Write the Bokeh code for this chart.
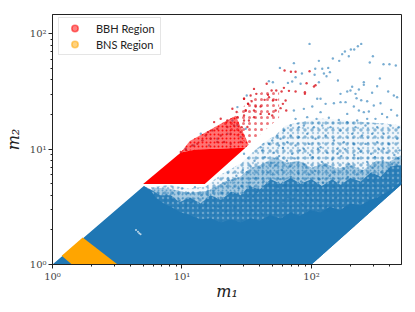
from bokeh.plotting import figure
from bokeh.embed import file_html
from bokeh.resources import INLINE
from bokeh.models import Legend, LegendItem

# all masses as log10(solar masses)
blue_solid_m1 = [0, .705, .76, .80, .86, .93, .991, 1.06, 1.145, 1.22, 1.30, 1.38, 1.453, 1.53, 1.60, 1.68, 1.762, 1.84, 1.91, 1.99, 2.07, 2.14, 2.22, 2.30, 2.379, 2.45, 2.51, 2.571, 2.63, 2.695, 2.695, 2.0]
blue_solid_m2 = [0, .68, .64, .575, .529, .49, .451, .43, .39, .40, .365, .39, .364, .40, .38, .43, .399, .45, .42, .47, .451, .50, .47, .53, .512, .56, .58, .62, .66, .72, .695, 0]
blue_mid_m1 = [.705, .76, .83, .914, .98, 1.06, 1.145, 1.22, 1.30, 1.38, 1.453, 1.52, 1.60, 1.685, 1.76, 1.84, 1.916, 2.0, 2.08, 2.16, 2.224, 2.30, 2.38, 2.46, 2.533, 2.61, 2.695, 2.695, 2.0, 1.0]
blue_mid_m2 = [.68, .65, .60, .60, .54, .58, .53, .60, .56, .63, .60, .68, .65, .74, .70, .75, .70, .74, .68, .74, .69, .75, .72, .80, .76, .85, .86, .695, 0, 0]
blue_near_m1 = [.76, .90, 1.05, 1.2, 1.33, 1.45, 1.53, 1.6, 1.72, 1.81, 1.9, 2.0, 2.1, 2.2, 2.3, 2.4, 2.5, 2.6, 2.695, 2.695, 2.0, 1.0]
blue_near_m2 = [.668, .66, .62, .64, .72, .76, .84, .86, .93, .88, .90, .84, .88, .83, .86, .82, .90, .89, .95, .695, 0, 0]
blue_thin_m1 = [.76, .90, 1.05, 1.183, 1.30, 1.453, 1.55, 1.623, 1.72, 1.80, 1.93, 2.07, 2.25, 2.456, 2.58, 2.695, 2.695, 2.0, 1.0]
blue_thin_m2 = [.668, .69, .66, .676, .78, .876, .98, 1.049, 1.12, 1.206, 1.24, 1.266, 1.25, 1.232, 1.22, 1.206, .695, 0, 0]
bbh_m1 = [.7, .991, 1.106, 1.49, 1.176]
bbh_m2 = [.699, .971, .997, 1.013, .699]
bbh_thin_m1 = [.991, 1.06, 1.18, 1.30, 1.415, 1.515, 1.49, 1.106]
bbh_thin_m2 = [.971, 1.07, 1.145, 1.22, 1.29, 1.038, 1.013, .997]
bbh_far_m1 = [1.3, 1.415, 1.5, 1.62, 1.75, 1.75, 1.515]
bbh_far_m2 = [1.22, 1.29, 1.4, 1.5, 1.5, 1.273, 1.038]
bns_m1 = [.071, .233, .503, .15]
bns_m2 = [.075, .234, 0, 0]
hole_m1 = [.66, .67, .645, .68]
hole_m2 = [.285, .27, .3, .262]

blue_m1 = [1.985,2.384,2.358,2.330,2.304,2.258,2.237,2.288,2.165,2.214,2.057,1.864,2.474,2.450,2.556,2.602,2.651,1.756,2.129,2.029,2.083,2.142,1.926,2.024,2.096,2.116,2.204,1.877,1.851,1.702,1.671,1.818,1.916,2.057,2.528,2.404,2.404,2.314,2.507,2.301,2.276,2.366,2.468,2.592,2.636,2.661,2.224,2.348,2.430,
 2.384,2.327,2.366,2.404,2.443,2.481,2.533,2.615,2.661,2.584,2.494,2.430,2.353,2.276,2.224,2.263,2.173,2.109,2.044,2.070,2.006,2.070,1.941,1.864,1.877,1.967,2.039,2.134,2.211,2.276,2.340,2.417,2.507,2.610,2.674,2.558,2.468,2.391,2.314,2.224,2.147,2.083,2.019,1.941,1.903,1.839,1.787,1.736,1.697,1.672,1.761,1.839,1.903,1.967,2.031,2.109,2.173,2.250,2.327,2.417,2.507,2.597,2.661,1.813,1.877,1.980,2.070,2.199,2.366,2.558,1.607,1.749,1.941,2.34,2.545,
 1.389,1.428,1.492,1.453,1.350,1.273,1.209,1.145,1.093,1.029,1.273,1.376,1.479,1.428,1.500,
 1.62,1.71,1.78,1.85,1.91,1.99,2.05,2.12,2.2,2.26,2.33,2.38,2.46,2.52,2.58,2.64,2.68,
 1.56,1.64,1.69,1.75,1.81,1.87,1.94,2.01,2.08,2.16,2.23,2.29,2.36,2.43,2.49,2.55,2.62,2.67,
 1.47,1.53,1.6,1.66,1.72,1.77,1.83,1.9,1.96,2.03,2.1,2.18,2.25,2.31,2.39,2.47,2.54,2.6,2.66,
 1.36,1.42,1.5,1.57,1.63,1.7,1.76,1.84,1.92,1.98,2.06,2.14,2.21,2.28,2.35,2.44,2.51,2.57,2.65,
 1.26,1.33,1.39,1.46,1.52,1.59,1.67,1.74,1.8,1.88,1.95,2.02,2.09,2.17,2.24,2.32,2.4,2.48,2.56,2.63,
 1.2,1.24,1.3,1.38,1.44,1.51,1.58,1.65,1.73,1.82,1.89,1.97,2.04,2.11,2.19,2.27,2.34,2.42,2.5,2.59,2.66,
 1.0,1.05,1.1,1.15,1.2,1.25,1.31,1.37,1.43,1.49,1.55,1.61,1.68,1.78,1.86,1.93,2.0,2.07,2.15,2.22,2.3,2.37,2.45,2.53,2.61,
 .88,.93,.98,1.03,1.08,1.13,1.18,1.23,1.28,1.34,1.4,1.45,1.54,1.62,1.72,1.85,1.99,2.13,2.26,2.41,2.55]
blue_m2 = [1.913,1.913,1.893,1.864,1.864,1.847,1.824,1.806,1.786,1.766,1.766,1.746,1.806,1.752,1.737,1.737,1.726,1.705,1.705,1.697,1.697,1.668,1.656,1.645,1.656,1.633,1.595,1.624,1.587,1.581,1.590,1.575,1.567,1.581,1.613,1.581,1.558,1.541,1.546,1.509,1.500,1.517,1.489,1.500,1.465,1.451,1.480,1.442,1.416,
 1.425,1.370,1.335,1.321,1.327,1.379,1.399,1.341,1.292,1.278,1.263,1.263,1.249,1.306,1.408,1.408,1.399,1.393,1.437,1.437,1.370,1.321,1.350,1.335,1.263,1.278,1.263,1.272,1.254,1.234,1.191,1.205,1.191,1.205,1.191,1.133,1.133,1.119,1.133,1.162,1.191,1.205,1.191,1.205,1.191,1.205,1.162,1.119,1.075,1.046,1.090,1.119,1.104,1.133,1.090,1.119,1.075,1.061,1.046,1.046,1.061,1.046,1.090,1.061,1.032,1.046,1.017,1.003,1.003,1.003,1.017,1.032,1.003,1.48,1.306,
 1.249,1.206,1.177,1.105,1.134,1.091,1.033,1.134,1.033,1.004,.937,1.004,.960,1.365,1.466,
 .99,.97,1.01,.96,.99,.95,1.0,.97,.96,1.0,.95,.98,.96,1.0,.97,.95,.99,
 .9,.93,.88,.94,.9,.92,.87,.93,.89,.91,.94,.87,.92,.89,.93,.9,.87,.92,
 .82,.85,.84,.8,.86,.82,.85,.79,.84,.81,.86,.8,.83,.85,.81,.84,.8,.83,.86,
 .73,.77,.8,.75,.72,.78,.74,.76,.72,.78,.74,.77,.72,.76,.78,.73,.77,.74,.78,
 .66,.7,.73,.68,.71,.65,.7,.67,.69,.65,.7,.66,.71,.67,.7,.65,.69,.72,.67,.7,
 .6,.64,.58,.62,.66,.59,.63,.57,.62,.58,.64,.6,.56,.63,.58,.61,.65,.6,.57,.63,.72,
 .66,.62,.67,.6,.64,.58,.62,.57,.61,.55,.59,.54,.58,.53,.57,.52,.56,.51,.55,.53,.57,.54,.58,.55,.66,
 .6,.57,.55,.52,.54,.49,.52,.47,.5,.46,.49,.45,.47,.44,.46,.45,.46,.47,.49,.5,.6]
red_m1 = [1.792,1.841,1.877,1.985,1.962,2.031,2.019,1.654,1.556,1.574,1.692,1.728,1.787,1.769,1.826,1.877,1.949,1.949,1.664,1.672,1.638,1.702,1.728,1.800,1.779,1.761,1.805,1.530,1.479,1.538,1.569,1.607,1.510,1.492,1.723,1.697,1.672,1.607,1.556,1.556,1.517,1.479,1.461,
 1.479,1.510,1.422,1.389,1.428,1.350,1.299,1.248,1.235,1.201,1.158,1.273,1.350,1.479,1.505,1.402,1.376,1.453,1.299,1.222,1.119,1.080,1.029,.991,1.453,1.376,1.325,1.273,1.492,1.183]
red_m2 = [1.682,1.671,1.671,1.676,1.572,1.555,1.543,1.567,1.523,1.480,1.509,1.509,1.532,1.500,1.506,1.500,1.480,1.494,1.471,1.451,1.428,1.422,1.428,1.422,1.393,1.356,1.335,1.465,1.437,1.416,1.370,1.370,1.393,1.335,1.335,1.292,1.306,1.306,1.335,1.278,1.249,1.292,1.191,
 1.437,1.394,1.322,1.351,1.278,1.249,1.264,1.235,1.163,1.148,1.076,1.177,1.192,1.249,1.192,1.206,1.134,1.148,1.119,1.091,1.047,1.033,.995,.975,1.062,1.047,1.062,1.062,1.336,1.119]

legend_labels = ["BBH Region", "BNS Region"]
x_tick_labels = {1: "10\u2070", 10: "10\u00b9", 100: "10\u00b2"}
y_tick_labels = {1: "10\u2070", 10: "10\u00b9", 100: "10\u00b2"}

def up(values):
    return [10 ** v for v in values]

BLUE, RED, ORANGE = "#1f77b4", "#ff0000", "#ffa500"

p = figure(width=399, height=304, x_axis_type="log", y_axis_type="log",
           x_range=(1, 10 ** 2.695), y_range=(1, 10 ** 2.168),
           output_backend="svg", toolbar_location=None,
           min_border_left=44, min_border_right=2, min_border_top=14, min_border_bottom=40,
           frame_width=349, frame_height=250, background_fill_color="white")
p.grid.visible = False
p.outline_line_color = "#222222"
p.outline_line_width = 1

p.patch(up(blue_thin_m1), up(blue_thin_m2), fill_color=BLUE, fill_alpha=0.06, line_width=0, line_alpha=0,
        hatch_pattern="dot", hatch_color=BLUE, hatch_alpha=0.5, hatch_scale=7, hatch_weight=1)
p.patch(up(blue_thin_m1), up(blue_thin_m2), fill_alpha=0, line_width=0, line_alpha=0,
        hatch_pattern="dot", hatch_color=BLUE, hatch_alpha=0.35, hatch_scale=5, hatch_weight=1)
p.patch(up(blue_near_m1), up(blue_near_m2), fill_color=BLUE, fill_alpha=0.35, line_width=0, line_alpha=0,
        hatch_pattern="dot", hatch_color=BLUE, hatch_alpha=0.5, hatch_scale=4, hatch_weight=1)
p.patch(up(blue_mid_m1), up(blue_mid_m2), fill_color=BLUE, fill_alpha=0.9, line_width=0, line_alpha=0,
        hatch_pattern="dot", hatch_color="white", hatch_alpha=0.3, hatch_scale=5, hatch_weight=1)
p.patch(up(blue_solid_m1), up(blue_solid_m2), color=BLUE, line_width=0)
p.patch(up(bns_m1), up(bns_m2), color=ORANGE, line_width=0)
p.scatter(up(hole_m1), up(hole_m2), size=2, color="white", alpha=0.7, line_width=0)
p.scatter(up(blue_m1), up(blue_m2), size=2.4, color=BLUE, alpha=0.6, line_width=0)
p.patch(up(bbh_far_m1), up(bbh_far_m2), fill_alpha=0, line_width=0, line_alpha=0,
        hatch_pattern="dot", hatch_color="#e01a24", hatch_alpha=0.6, hatch_scale=6, hatch_weight=1.2)
p.patch(up(bbh_thin_m1), up(bbh_thin_m2), fill_color=RED, fill_alpha=0.55, line_width=0, line_alpha=0,
        hatch_pattern="dot", hatch_color=RED, hatch_alpha=0.9, hatch_scale=4, hatch_weight=1.5)
p.patch(up(bbh_m1), up(bbh_m2), color=RED, line_width=0)
p.scatter(up(red_m1), up(red_m2), size=2.4, color="#d8141e", alpha=0.8, line_width=0)

bbh_key = p.scatter([float("nan")], [float("nan")], size=8, fill_color=RED, fill_alpha=0.5,
                    line_color=RED, line_alpha=0.5, line_width=1.6)
bns_key = p.scatter([float("nan")], [float("nan")], size=8, fill_color=ORANGE, fill_alpha=0.5,
                    line_color=ORANGE, line_alpha=0.5, line_width=1.6)
legend = Legend(items=[LegendItem(label=legend_labels[0], renderers=[bbh_key]),
                       LegendItem(label=legend_labels[1], renderers=[bns_key])],
                location=(6, 209), orientation="vertical", glyph_width=27, glyph_height=16,
                label_text_font="Lato", label_text_font_size="11px", label_text_color="#222222",
                label_standoff=8, label_width=62, label_height=12, spacing=0, padding=2, margin=0,
                border_line_color="#cccccc", background_fill_alpha=0.8)
p.add_layout(legend, "center")

for ax, labels, name, off in ((p.xaxis[0], x_tick_labels, "m\u2081", -3), (p.yaxis[0], y_tick_labels, "m\u2082", 4)):
    ax.ticker.num_minor_ticks = 10
    ax.major_label_overrides = labels
    ax.major_tick_in = 0
    ax.major_tick_out = 4
    ax.minor_tick_in = 0
    ax.minor_tick_out = 2
    ax.axis_line_color = "#222222"
    ax.major_tick_line_color = "#222222"
    ax.minor_tick_line_color = "#222222"
    ax.major_label_text_font = "DejaVu Serif"
    ax.major_label_text_font_size = "10px"
    ax.major_label_text_color = "#444444"
    ax.major_label_standoff = 2
    ax.axis_label = name
    ax.axis_label_text_font = "DejaVu Serif"
    ax.axis_label_text_font_style = "italic"
    ax.axis_label_text_font_size = "16px"
    ax.axis_label_text_color = "#222222"
    ax.axis_label_standoff = off

open("out.html", "w").write(file_html(p, INLINE))
